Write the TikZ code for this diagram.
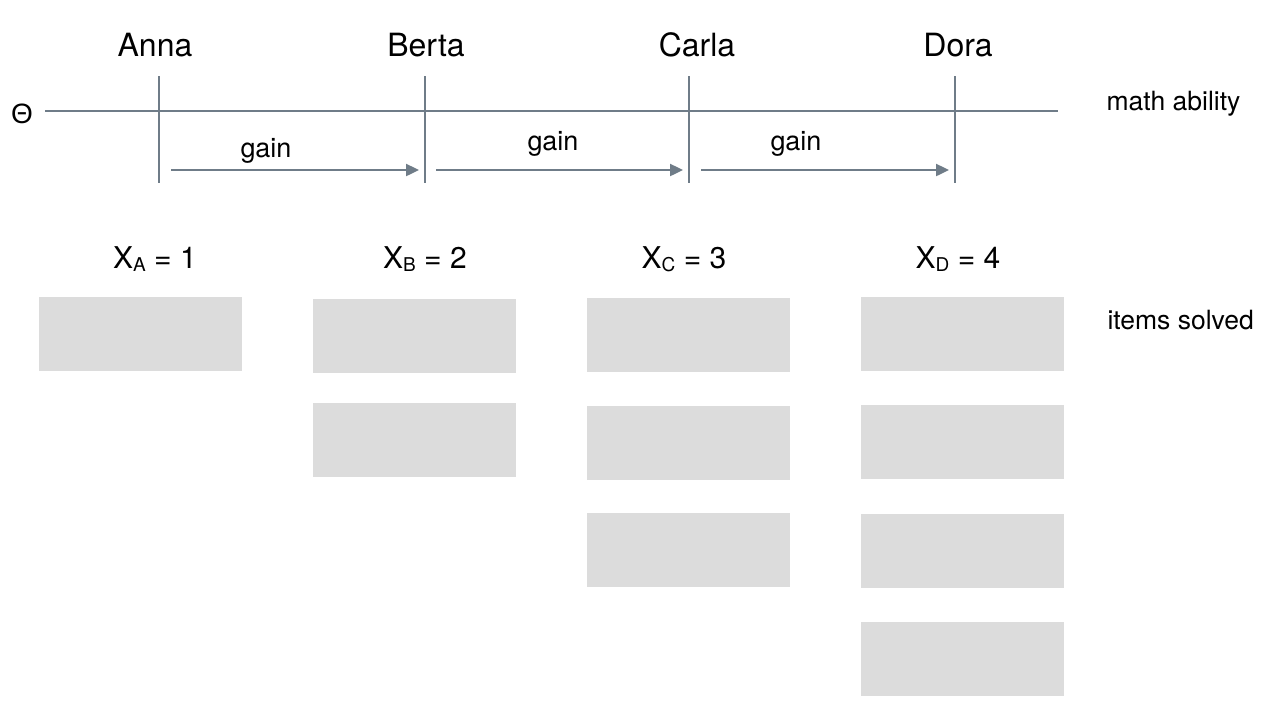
\documentclass[tikz,border=0pt]{standalone}
\usepackage{fontspec}
\setmainfont{TeX Gyre Heros}
\newfontfamily\greekfont{Liberation Sans}
\usetikzlibrary{arrows.meta}
\definecolor{linecol}{HTML}{6F7C88}
\definecolor{boxcol}{HTML}{DCDCDC}
\newcommand{\subsc}[1]{\raisebox{-0.1em}{\fontsize{19}{19}\selectfont #1}}
\begin{document}
\begin{tikzpicture}[x=1pt,y=-1pt,
  axis/.style={draw=linecol,line width=1.8pt},
  tick/.style={draw=linecol,line width=2.6pt},
  gainarrow/.style={draw=linecol,line width=2.4pt,-{Triangle[length=13pt,width=12pt]}},
  person/.style={font=\fontsize{32}{32}\selectfont,anchor=base},
  gainlbl/.style={font=\fontsize{27}{27}\selectfont,anchor=base},
  sidelbl/.style={font=\fontsize{26.5}{26.5}\selectfont,anchor=base west},
  xlbl/.style={font=\fontsize{30}{30}\selectfont,anchor=base},
  itembox/.style={fill=boxcol,draw=none,minimum width=203pt,minimum height=74pt,inner sep=0pt,anchor=north west}]
\useasboundingbox (0,0) rectangle (1272,705);
% axis
\node[font=\greekfont\fontsize{28}{28}\selectfont,anchor=base] (theta) at (22,123) {Θ};
\coordinate (axL) at (45,111);
\coordinate (axR) at (1058,111);
\draw[axis] (axL) -- (axR);
% ticks
\foreach \n/\x in {a/159,b/425,c/689,d/955}{
  \coordinate (t\n) at (\x,76);
  \coordinate (b\n) at (\x,183);
  \draw[tick] (t\n) -- (b\n);
}
\node[person] (anna) at (155,56) {Anna};
\node[person] (berta) at (426,56) {Berta};
\node[person] (carla) at (697,56) {Carla};
\node[person] (dora) at (958,56) {Dora};
% gain arrows
\coordinate (g1s) at (171,170); \coordinate (g1e) at (419,170);
\coordinate (g2s) at (436,170); \coordinate (g2e) at (683,170);
\coordinate (g3s) at (701,170); \coordinate (g3e) at (949,170);
\draw[gainarrow] (g1s) -- (g1e);
\draw[gainarrow] (g2s) -- (g2e);
\draw[gainarrow] (g3s) -- (g3e);
\node[gainlbl] (gain1) at (266,157) {gain};
\node[gainlbl] (gain2) at (553,150) {gain};
\node[gainlbl] (gain3) at (796,150) {gain};
\node[sidelbl] (math) at (1103,110) {math ability};
\node[sidelbl] (items) at (1104,329) {items solved};
% X labels
\node[xlbl] (xa) at (155,268) {X\subsc{A} = 1};
\node[xlbl] (xb) at (425,268) {X\subsc{B} = 2};
\node[xlbl] (xc) at (684,268) {X\subsc{C} = 3};
\node[xlbl] (xd) at (958,268) {X\subsc{D} = 4};
% boxes
\node[itembox] (a1) at (39,297) {};
\node[itembox] (b1) at (313,299) {};
\node[itembox] (b2) at (313,403) {};
\node[itembox] (c1) at (587,298) {};
\node[itembox] (c2) at (587,406) {};
\node[itembox] (c3) at (587,513) {};
\node[itembox] (d1) at (861,297) {};
\node[itembox] (d2) at (861,405) {};
\node[itembox] (d3) at (861,514) {};
\node[itembox] (d4) at (861,622) {};
\end{tikzpicture}
\end{document}
